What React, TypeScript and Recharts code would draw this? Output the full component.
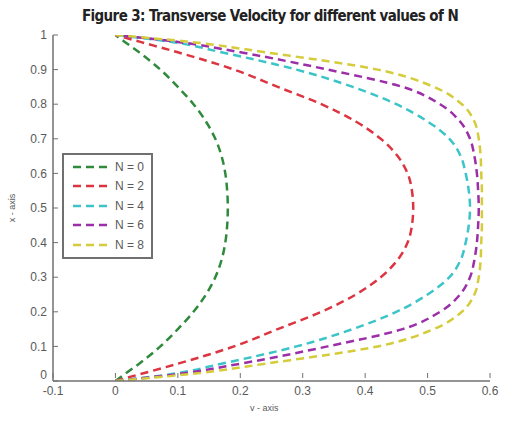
import * as React from "react";
import { Line, LineChart, XAxis, YAxis } from "recharts";

// x positions across the channel (vertical axis), 0 → 1
const X_LEVELS = [0, 0.02, 0.05, 0.1, 0.15, 0.2, 0.25, 0.3, 0.35, 0.4, 0.45, 0.5, 0.55, 0.6, 0.65, 0.7, 0.75, 0.8, 0.85, 0.9, 0.95, 0.98, 1];

// transverse velocity v, one list per N
const V_N0 = [0, 0.015, 0.038, 0.072, 0.1, 0.125, 0.145, 0.16, 0.17, 0.176, 0.179, 0.18, 0.179, 0.176, 0.17, 0.16, 0.145, 0.125, 0.1, 0.072, 0.038, 0.015, 0];
const V_N2 = [0, 0.04, 0.1, 0.19, 0.26, 0.33, 0.385, 0.425, 0.452, 0.468, 0.475, 0.477, 0.475, 0.468, 0.452, 0.425, 0.385, 0.33, 0.26, 0.19, 0.1, 0.04, 0];
const V_N4 = [0, 0.09, 0.17, 0.29, 0.38, 0.45, 0.5, 0.535, 0.553, 0.561, 0.566, 0.568, 0.566, 0.561, 0.553, 0.535, 0.5, 0.45, 0.38, 0.29, 0.17, 0.09, 0];
const V_N6 = [0, 0.1, 0.2, 0.34, 0.46, 0.52, 0.552, 0.568, 0.575, 0.579, 0.581, 0.582, 0.581, 0.579, 0.575, 0.568, 0.552, 0.52, 0.46, 0.34, 0.2, 0.1, 0];
const V_N8 = [0, 0.12, 0.24, 0.42, 0.51, 0.555, 0.575, 0.582, 0.585, 0.586, 0.587, 0.587, 0.587, 0.586, 0.585, 0.582, 0.575, 0.555, 0.51, 0.42, 0.24, 0.12, 0];

const V_TICKS = [-0.1, 0, 0.1, 0.2, 0.3, 0.4, 0.5, 0.6];
const X_TICKS = [0, 0.1, 0.2, 0.3, 0.4, 0.5, 0.6, 0.7, 0.8, 0.9, 1];

const SERIES = [
  { name: "N = 0", values: V_N0, color: "#2f8a3c" },
  { name: "N = 2", values: V_N2, color: "#dc3440" },
  { name: "N = 4", values: V_N4, color: "#3cc4c8" },
  { name: "N = 6", values: V_N6, color: "#9c2ea8" },
  { name: "N = 8", values: V_N8, color: "#d4cc3a" },
];

const toPoints = (vals: number[]) => X_LEVELS.map((x, i) => ({ x, v: vals[i] }));

const AXIS = "#707070";
const LABEL = "#5a5a5a";
const FONT = "'Liberation Sans', Arial, sans-serif";
const fmt = (n: number) => String(Number(n.toFixed(1)));
const DASH = "8 5";

// MATLAB-style inward ticks
function LeftTick({ x, y, payload }: any) {
  return (
    <g>
      <line x1={x + 5} x2={x + 10} y1={y} y2={y} stroke={AXIS} strokeWidth={1} />
      <text x={x - 1} y={y - (payload.value === 0 ? 6 : 0)} dy="0.35em" textAnchor="end" fontSize={12} fill={LABEL} fontFamily={FONT}>
        {fmt(payload.value)}
      </text>
    </g>
  );
}
function BottomTick({ x, y, payload }: any) {
  return (
    <g>
      <line x1={x} x2={x} y1={y - 5} y2={y - 10} stroke={AXIS} strokeWidth={1} />
      <text x={x} y={y + 3} dy="0.71em" textAnchor="middle" fontSize={12} fill={LABEL} fontFamily={FONT}>
        {fmt(payload.value)}
      </text>
    </g>
  );
}
function RightTick({ x, y }: any) {
  return <line x1={x - 5} x2={x - 10} y1={y} y2={y} stroke={AXIS} strokeWidth={1} />;
}
function TopTick({ x, y }: any) {
  return <line x1={x} x2={x} y1={y + 5} y2={y + 10} stroke={AXIS} strokeWidth={1} />;
}

function LegendBox() {
  return (
    <div
      style={{
        position: "absolute",
        left: 62,
        top: 153,
        border: `2px solid ${AXIS}`,
        background: "#fff",
        width: 87,
        padding: "2px 0",
        fontFamily: FONT,
        fontSize: 12,
        color: LABEL,
      }}
    >
      {SERIES.map((s) => (
        <div key={s.name} style={{ display: "flex", alignItems: "center", height: 19.5 }}>
          <svg width={40} height={6} style={{ marginLeft: 9, flexShrink: 0 }}>
            <line x1={0} x2={38} y1={3} y2={3} stroke={s.color} strokeWidth={2.5} strokeDasharray={DASH} />
          </svg>
          <span style={{ marginLeft: 2, whiteSpace: "nowrap" }}>{s.name}</span>
        </div>
      ))}
    </div>
  );
}

export default function App() {
  return (
    <div style={{ position: "absolute", left: 0, top: 0, width: 507, height: 421, background: "#fff" }}>
      <div
        style={{
          position: "absolute",
          top: 7,
          left: 0,
          width: 540,
          textAlign: "center",
          fontFamily: "'DejaVu Sans Condensed', 'DejaVu Sans', sans-serif",
          fontWeight: "bold",
          fontSize: 15,
          letterSpacing: -0.6,
          color: "#222",
        }}
      >
        Figure 3: Transverse Velocity for different values of N
      </div>
      <LineChart width={507} height={421} margin={{ top: 35, right: 17, left: 23, bottom: 15 }}>
        <XAxis
          type="number"
          dataKey="v"
          domain={[-0.1, 0.6]}
          ticks={V_TICKS}
          allowDataOverflow
          height={25}
          tickLine={false}
          tickSize={0}
          axisLine={{ stroke: AXIS, strokeWidth: 1.5 }}
          tick={<BottomTick />}
          interval={0}
        />
        <XAxis
          xAxisId="top"
          orientation="top"
          type="number"
          dataKey="v"
          domain={[-0.1, 0.6]}
          ticks={V_TICKS}
          allowDataOverflow
          height={0}
          tickLine={false}
          tickSize={0}
          axisLine={{ stroke: AXIS, strokeWidth: 1.5 }}
          tick={<TopTick />}
          interval={0}
        />
        <YAxis
          type="number"
          dataKey="x"
          domain={[0, 1]}
          ticks={X_TICKS}
          allowDataOverflow
          width={30}
          tickLine={false}
          tickSize={0}
          tickMargin={5}
          axisLine={{ stroke: AXIS, strokeWidth: 1.5 }}
          tick={<LeftTick />}
          interval={0}
        />
        <YAxis
          yAxisId="right"
          orientation="right"
          type="number"
          domain={[0, 1]}
          ticks={X_TICKS}
          allowDataOverflow
          width={0}
          tickLine={false}
          tickSize={0}
          axisLine={{ stroke: AXIS, strokeWidth: 1.5 }}
          tick={<RightTick />}
          interval={0}
        />
        {SERIES.map((s) => (
          <Line
            key={s.name}
            name={s.name}
            data={toPoints(s.values)}
            dataKey="x"
            type="monotoneY"
            stroke={s.color}
            strokeWidth={2.5}
            strokeDasharray={DASH}
            dot={false}
            activeDot={false}
            isAnimationActive={false}
          />
        ))}
      </LineChart>
      <LegendBox />
      <div style={{ position: "absolute", top: 403, left: 250, fontFamily: FONT, fontSize: 9, color: LABEL }}>v - axis</div>
      <div
        style={{
          position: "absolute",
          left: 12,
          top: 208,
          transform: "translate(-50%, -50%) rotate(-90deg)",
          fontFamily: FONT,
          fontSize: 9,
          color: LABEL,
          whiteSpace: "nowrap",
        }}
      >
        x - axis
      </div>
    </div>
  );
}
